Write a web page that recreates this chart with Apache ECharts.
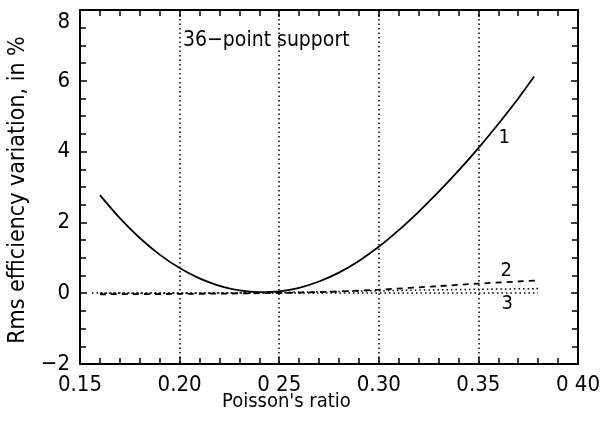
<!DOCTYPE html>
<html>
<head>
<meta charset="utf-8">
<script src="https://cdn.jsdelivr.net/npm/echarts@6/dist/echarts.min.js"></script>
<style>
  html, body { margin: 0; padding: 0; background: #fff; }
  #chart { width: 603px; height: 421px; }
</style>
</head>
<body>
<div id="chart"></div>
<script>
// Initialize
var chart = echarts.init(document.getElementById('chart'));

var FONT = '"Liberation Sans Narrow", "DejaVu Sans Condensed", "Liberation Sans", sans-serif';

// data
var xTickLabels = {'0.15': '0.15', '0.2': '0.20', '0.25': '0 25', '0.3': '0.30', '0.35': '0.35', '0.4': '0 40'};

var poisson1 = [0.16, 0.17, 0.18, 0.19, 0.20, 0.21, 0.22, 0.23, 0.24, 0.25, 0.26, 0.27,
                0.28, 0.29, 0.30, 0.31, 0.32, 0.33, 0.34, 0.35, 0.36, 0.37, 0.378];
var rms1 = [2.77, 2.12, 1.56, 1.09, 0.71, 0.42, 0.21, 0.08, 0.03, 0.05, 0.15, 0.33,
            0.58, 0.91, 1.31, 1.78, 2.30, 2.86, 3.46, 4.10, 4.78, 5.50, 6.12];

var poisson2 = [0.16, 0.20, 0.24, 0.27, 0.30, 0.33, 0.35, 0.38];
var rms2 = [-0.03, -0.02, 0.0, 0.03, 0.1, 0.2, 0.27, 0.36];

var poisson3 = [0.16, 0.20, 0.25, 0.28, 0.30, 0.35, 0.38];
var rms3 = [0.0, 0.0, 0.02, 0.05, 0.07, 0.11, 0.13];

function pairs(xs, ys) {
    var out = [];
    for (var i = 0; i < xs.length; i++) {
        out.push([xs[i], ys[i]]);
    }
    return out;
}

function curveLabel(text, x, y) {
    return {
        silent: true,
        symbol: 'circle',
        symbolSize: 1,
        itemStyle: {color: 'rgba(0,0,0,0)'},
        label: {show: true, position: 'inside', formatter: text,
                color: '#000', fontFamily: FONT, fontSize: 20},
        data: [{coord: [x, y]}]
    };
}

var yMinor = {show: true, splitNumber: 4, length: 6, lineStyle: {color: '#000', width: 1.5}};

var axisCommon = {
    axisLine: {show: true, onZero: false, lineStyle: {color: '#000', width: 2}},
    axisTick: {show: true, inside: true, length: 7, lineStyle: {color: '#000', width: 1.5}},
    minorTick: {show: true, splitNumber: 5, length: 6, lineStyle: {color: '#000', width: 1.5}}
};

var option = {
    backgroundColor: '#fff',
    animation: false,
    grid: {left: 80, right: 25, top: 10, bottom: 57},
    xAxis: [
        Object.assign({
            type: 'value', min: 0.15, max: 0.40, interval: 0.05,
            axisLabel: {
                color: '#000', fontFamily: FONT, fontSize: 22, margin: 10,
                formatter: function (v) { return xTickLabels[String(+v.toFixed(2))] || ''; }
            },
            splitLine: {show: true, lineStyle: {color: '#000', type: [1.5, 3], width: 1.5}}
        }, axisCommon),
        Object.assign({
            type: 'value', position: 'top', min: 0.15, max: 0.40, interval: 0.05,
            axisLabel: {show: false}, splitLine: {show: false}
        }, axisCommon)
    ],
    yAxis: [
        Object.assign({
            type: 'value', min: -2, max: 8, interval: 2,
            axisLabel: {
                color: '#000', fontFamily: FONT, fontSize: 22, margin: 10,
                formatter: function (v) {
                    if (v === 8) return '{top|8}';
                    return String(v).replace('-', '\u2212');
                },
                rich: {top: {fontFamily: FONT, fontSize: 22, color: '#000', padding: [24, 0, 0, 0]}}
            },
            splitLine: {show: false}
        }, axisCommon, {minorTick: yMinor}),
        Object.assign({
            type: 'value', position: 'right', min: -2, max: 8, interval: 2,
            axisLabel: {show: false}, splitLine: {show: false}
        }, axisCommon, {minorTick: yMinor})
    ],
    graphic: [
        {type: 'text', left: 183, top: 30,
         style: {text: '36\u2212point support', fill: '#000', font: '21px ' + FONT}},
        {type: 'text', left: 222, top: 392,
         style: {text: "Poisson's ratio", fill: '#000', font: '20px ' + FONT}},
        {type: 'text', x: 18, y: 190, rotation: Math.PI / 2,
         style: {text: 'Rms efficiency variation, in %', fill: '#000', font: '23px ' + FONT,
                 align: 'center', verticalAlign: 'middle'}}
    ],
    series: [
        {
            name: '1', type: 'line', smooth: 0.3, symbol: 'none',
            data: pairs(poisson1, rms1),
            lineStyle: {color: '#000', width: 1.8},
            markPoint: curveLabel('1', 0.363, 4.4)
        },
        {
            name: '2', type: 'line', smooth: 0.3, symbol: 'none',
            data: pairs(poisson2, rms2),
            lineStyle: {color: '#000', width: 1.8, type: [6, 5]},
            markPoint: curveLabel('2', 0.364, 0.63)
        },
        {
            name: '3', type: 'line', smooth: 0.3, symbol: 'none',
            data: pairs(poisson3, rms3),
            lineStyle: {color: '#000', width: 1.5, type: [1.5, 3]},
            markPoint: curveLabel('3', 0.3645, -0.3),
            markLine: {
                symbol: 'none', silent: true, label: {show: false},
                lineStyle: {color: '#000', width: 1.5, type: [1.5, 3]},
                data: [[{coord: [0.156, 0]}, {coord: [0.38, 0]}]]
            }
        }
    ]
};

chart.setOption(option);
</script>
</body>
</html>
